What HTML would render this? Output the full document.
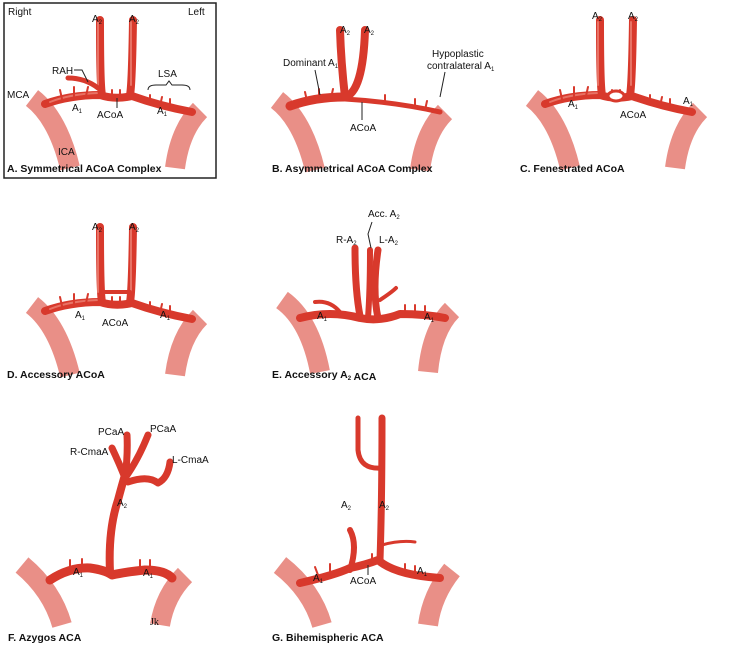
<!DOCTYPE html>
<html><head><meta charset="utf-8"><style>
html,body{margin:0;padding:0;background:#fff;}
svg{display:block;font-family:"Liberation Sans",sans-serif;}
.v{fill:none;stroke:#d8392c;stroke-linecap:round;stroke-linejoin:round}
.h{fill:none;stroke:#f08a7e;stroke-linecap:round;opacity:.7}
.ica{fill:none;stroke:#e26a5f;stroke-width:20;stroke-linecap:butt;opacity:.75}
.p{fill:none;stroke:#d8392c;stroke-width:2;stroke-linecap:round}
.l{fill:none;stroke:#222;stroke-width:1}
text{font-size:10px;fill:#111}
.c{font-size:10.5px;font-weight:bold}
</style></head><body>
<svg width="752" height="650" viewBox="0 0 752 650">
<defs>
<g id="base">
 <path class="ica" d="M32,98 Q58,118 70,168"/>
 <path class="ica" d="M200,110 Q180,130 175,168"/>
 <path class="v" stroke-width="8" d="M45,104 Q70,95 100,95 Q115,100 132,96 Q160,106 192,112"/>
 <path class="h" stroke-width="2" d="M50,102 Q70,94 98,93"/>
 <path class="p" d="M62,99 l-2,-9 M74,97 l0,-10 M86,96 l2,-9 M112,98 l0,-8 M120,98 l0,-8 M150,104 l0,-9 M160,106 l2,-9 M170,108 l0,-9"/>
</g>
<g id="a2s">
 <path class="v" stroke-width="8" d="M102,95 Q100,85 100,20"/>
 <path class="v" stroke-width="8" d="M130,95 Q132,85 133,20"/>
 <path class="h" stroke-width="2" d="M98,85 L98,22 M131,85 L131,22"/>
</g>
</defs>

<!-- A -->
<rect x="4" y="3" width="212" height="175" fill="none" stroke="#222" stroke-width="1.5"/>
<use href="#base"/><use href="#a2s"/>
<path class="v" stroke-width="5" d="M98,88 Q85,78 68,78"/>
<text x="8" y="15">Right</text><text x="188" y="15">Left</text>
<text x="92" y="22">A<tspan font-size="6" dy="2">2</tspan></text>
<text x="129" y="22">A<tspan font-size="6" dy="2">2</tspan></text>
<text x="52" y="74">RAH</text><path class="l" d="M74,70 h8 l6,12"/>
<text x="158" y="77">LSA</text><path class="l" d="M148,90 q0,-5 8,-5 h10 l3,-4 l3,4 h10 q8,0 8,5"/>
<text x="7" y="98">MCA</text>
<text x="72" y="111">A<tspan font-size="6" dy="2">1</tspan></text>
<text x="97" y="118">ACoA</text><path class="l" d="M117,98 v10"/>
<text x="157" y="114">A<tspan font-size="6" dy="2">1</tspan></text>
<text x="58" y="155">ICA</text>
<text class="c" x="7" y="172">A. Symmetrical ACoA Complex</text>

<!-- B -->
<g transform="translate(245,2)">
 <path class="ica" d="M32,98 Q58,118 70,168"/>
 <path class="ica" d="M200,110 Q180,130 175,168"/>
 <path class="v" stroke-width="9" d="M45,104 Q70,95 100,95"/>
 <path class="v" stroke-width="5" d="M100,97 Q150,100 195,110"/>
 <path class="v" stroke-width="8" d="M100,95 Q96,60 95,28"/>
 <path class="v" stroke-width="8" d="M100,95 Q118,90 120,28"/>
 <path class="p" d="M62,99 l-2,-9 M74,97 l0,-10 M86,96 l2,-9 M140,101 l0,-8 M170,106 l0,-9 M180,108 l2,-9"/>
</g>
<text x="340" y="33">A<tspan font-size="6" dy="2">2</tspan></text>
<text x="364" y="33">A<tspan font-size="6" dy="2">2</tspan></text>
<text x="283" y="66">Dominant A<tspan font-size="6" dy="2">1</tspan></text>
<text x="432" y="57">Hypoplastic</text><text x="427" y="69">contralateral A<tspan font-size="6" dy="2">1</tspan></text>
<path class="l" d="M315,70 l5,25 M445,72 l-5,25"/>
<text x="350" y="131">ACoA</text><path class="l" d="M362,102 v18"/>
<text class="c" x="272" y="172">B. Asymmetrical ACoA Complex</text>

<!-- C -->
<g transform="translate(500,0)">
 <use href="#base"/><use href="#a2s"/>
 <ellipse cx="116" cy="96" rx="8" ry="5" fill="#fff" stroke="#d8392c" stroke-width="3"/>
</g>
<text x="592" y="19">A<tspan font-size="6" dy="2">2</tspan></text>
<text x="628" y="19">A<tspan font-size="6" dy="2">2</tspan></text>
<text x="568" y="107">A<tspan font-size="6" dy="2">1</tspan></text>
<text x="683" y="104">A<tspan font-size="6" dy="2">1</tspan></text>
<text x="620" y="118">ACoA</text>
<text class="c" x="520" y="172">C. Fenestrated ACoA</text>

<!-- D -->
<g transform="translate(0,207)">
 <use href="#base"/><use href="#a2s"/>
 <path class="v" stroke-width="4" d="M102,85 H130"/>
</g>
<text x="92" y="230">A<tspan font-size="6" dy="2">2</tspan></text>
<text x="129" y="230">A<tspan font-size="6" dy="2">2</tspan></text>
<text x="75" y="318">A<tspan font-size="6" dy="2">1</tspan></text>
<text x="102" y="326">ACoA</text>
<text x="160" y="318">A<tspan font-size="6" dy="2">1</tspan></text>
<text class="c" x="7" y="378">D. Accessory ACoA</text>

<!-- E -->
<g transform="translate(0,0)">
 <path class="ica" d="M282,300 Q310,320 320,372"/>
 <path class="ica" d="M452,310 Q432,330 428,372"/>
 <path class="v" stroke-width="8" d="M300,318 Q330,310 360,318 Q380,322 400,314 Q425,314 445,318"/>
 <path class="v" stroke-width="7" d="M360,316 Q355,290 355,248"/>
 <path class="v" stroke-width="6" d="M368,318 Q370,290 370,250"/>
 <path class="v" stroke-width="7" d="M378,318 Q372,290 378,250"/>
 <path class="v" stroke-width="4" d="M340,312 Q330,300 315,302 M380,300 Q392,292 396,288"/>
 <path class="p" d="M405,313 l0,-8 M415,313 l0,-8 M425,314 l0,-8"/>
</g>
<text x="368" y="217">Acc. A<tspan font-size="6" dy="2">2</tspan></text>
<text x="336" y="243">R-A<tspan font-size="6" dy="2">2</tspan></text>
<text x="379" y="243">L-A<tspan font-size="6" dy="2">2</tspan></text>
<path class="l" d="M372,222 l-4,12 l3,14"/>
<text x="317" y="319">A<tspan font-size="6" dy="2">1</tspan></text>
<text x="424" y="320">A<tspan font-size="6" dy="2">1</tspan></text>
<text class="c" x="272" y="378">E. Accessory A<tspan font-size="6" dy="2">2</tspan> ACA</text>

<!-- F -->
<path class="ica" d="M22,565 Q52,590 62,625"/>
<path class="ica" d="M185,575 Q165,595 160,625"/>
<path class="v" stroke-width="9" d="M50,580 Q70,567 90,568 Q105,570 112,575 Q125,572 145,570 Q165,570 172,578"/>
<path class="v" stroke-width="8" d="M110,572 Q108,530 118,500 Q122,485 125,475"/>
<path class="v" stroke-width="7" d="M125,478 Q120,465 112,448 M125,478 Q128,455 127,435 M125,478 Q138,460 148,435 M128,482 Q148,475 158,483 Q168,478 170,462"/>
<path class="p" d="M70,568 l0,-8 M82,567 l0,-8 M140,568 l0,-8 M150,568 l0,-8"/>
<text x="98" y="435">PCaA</text><text x="150" y="432">PCaA</text>
<text x="70" y="455">R-CmaA</text><text x="172" y="463">L-CmaA</text>
<text x="117" y="506">A<tspan font-size="6" dy="2">2</tspan></text>
<text x="73" y="575">A<tspan font-size="6" dy="2">1</tspan></text>
<text x="143" y="576">A<tspan font-size="6" dy="2">1</tspan></text>
<text x="150" y="625" font-family="Liberation Serif" font-size="13">Jk</text>
<text class="c" x="8" y="641">F. Azygos ACA</text>

<!-- G -->
<path class="ica" d="M280,565 Q312,590 322,625"/>
<path class="ica" d="M452,570 Q432,595 428,625"/>
<path class="v" stroke-width="8" d="M300,583 Q335,575 350,568 Q365,565 378,560 Q395,575 440,578"/>
<path class="v" stroke-width="6" d="M350,570 Q358,545 350,530"/>
<path class="v" stroke-width="7" d="M380,560 Q382,500 382,418"/>
<path class="v" stroke-width="5" d="M382,468 Q360,470 358,450 L358,418"/>
<path class="v" stroke-width="3" d="M382,545 Q400,540 415,542"/>
<path class="p" d="M318,575 l-3,-8 M330,572 l0,-8 M372,562 l0,-8 M405,572 l0,-8 M415,574 l0,-8"/>
<text x="341" y="508">A<tspan font-size="6" dy="2">2</tspan></text>
<text x="379" y="508">A<tspan font-size="6" dy="2">2</tspan></text>
<text x="313" y="581">A<tspan font-size="6" dy="2">1</tspan></text>
<text x="350" y="584">ACoA</text><path class="l" d="M368,565 v10"/>
<text x="417" y="574">A<tspan font-size="6" dy="2">1</tspan></text>
<text class="c" x="272" y="641">G. Bihemispheric ACA</text>
</svg>
</body></html>
